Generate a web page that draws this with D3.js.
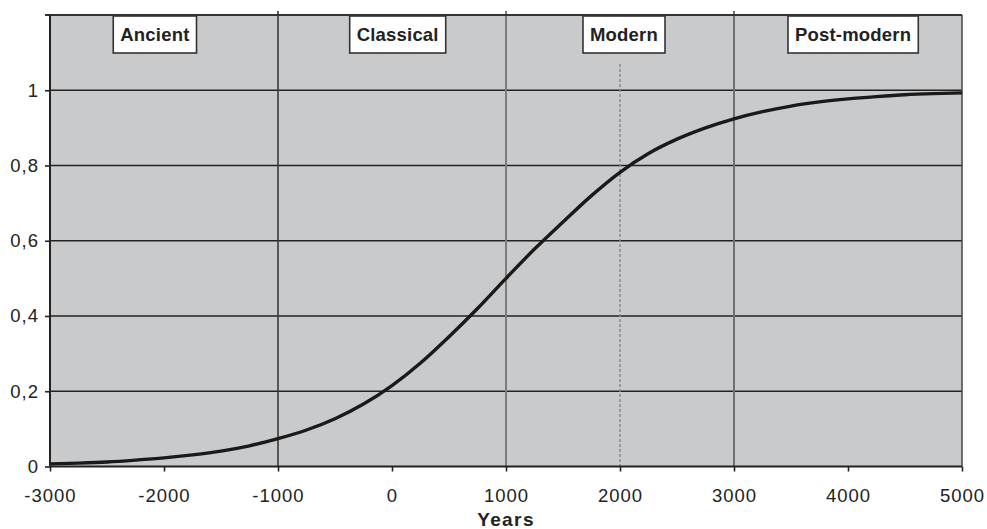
<!DOCTYPE html>
<html>
<head>
<meta charset="utf-8">
<script src="https://cdn.jsdelivr.net/npm/d3@7"></script>
<style>
  html, body { margin: 0; padding: 0; background: #fff; }
  svg { display: block; }
  text { font-family: "Liberation Sans", Arial, Helvetica, sans-serif; }
</style>
</head>
<body>
<svg id="chart" width="987" height="529"></svg>
<script>
// ---- data ----
const years = [-3000,-2750,-2500,-2250,-2000,-1750,-1500,-1250,-1000,-750,-500,-250,0,250,500,750,1000,
               1250,1500,1750,2000,2250,2500,2750,3000,3250,3500,3750,4000,4250,4500,4750,5000];
const values = [0.007,0.009,0.012,0.017,0.023,0.031,0.041,0.055,0.074,0.097,0.127,0.166,0.215,0.275,0.345,0.42,0.50,
                0.578,0.65,0.72,0.782,0.832,0.87,0.90,0.924,0.943,0.958,0.969,0.977,0.983,0.988,0.991,0.993];
const xTicks = [-3000,-2000,-1000,0,1000,2000,3000,4000,5000];
const yTicks = [0,0.2,0.4,0.6,0.8,1];
const eraNames = ["Ancient","Classical","Modern","Post-modern"];
const eraLabelYears = [-2080, 50, 2035, 4045];
const eraBoundaries = [-1000, 1000, 3000];
const presentYear = 2000;
const xTitle = "Years";

(function () {
// ---- layout ----
const svg = d3.select("#chart");
const pL = 50, pR = 962, pT = 15, pB = 466.5;
const x = d3.scaleLinear().domain([-3000, 5000]).range([pL, pR]);
const y = d3.scaleLinear().domain([0, 1.2]).range([pB, pT]);
const fmt = d => d3.format(".1~f")(d).replace(".", ",");

// plot background
svg.append("rect").attr("x", pL).attr("y", pT)
  .attr("width", pR - pL).attr("height", pB - pT)
  .attr("fill", "#c9cacc");

// horizontal gridlines
svg.append("g").selectAll("line").data(yTicks.filter(d => d > 0)).join("line")
  .attr("x1", pL).attr("x2", pR)
  .attr("y1", d => y(d)).attr("y2", d => y(d))
  .attr("stroke", "#222").attr("stroke-width", 1.6);

// era boundaries
const bColors = ["#3a3a3a", "#7d7d7d", "#707070"];
svg.append("g").selectAll("line").data(eraBoundaries).join("line")
  .attr("x1", d => x(d)).attr("x2", d => x(d))
  .attr("y1", pT - 4).attr("y2", pB)
  .attr("stroke", (d, i) => bColors[i]).attr("stroke-width", (d, i) => i === 0 ? 1.6 : 2);

// present dashed line
svg.append("line")
  .attr("x1", x(presentYear)).attr("x2", x(presentYear))
  .attr("y1", y(1.07)).attr("y2", pB)
  .attr("stroke", "#888").attr("stroke-width", 1.4)
  .attr("stroke-dasharray", "3,2");

// right border
svg.append("line").attr("x1", pR).attr("x2", pR).attr("y1", pT).attr("y2", pB)
  .attr("stroke", "#444").attr("stroke-width", 1.5);
// top border
svg.append("line").attr("x1", pL - 5).attr("x2", pR).attr("y1", pT).attr("y2", pT)
  .attr("stroke", "#333").attr("stroke-width", 1.8);

// curve
const pts = years.map((yr, i) => [yr, values[i]]);
svg.append("path").datum(pts)
  .attr("fill", "none").attr("stroke", "#1a1a1a").attr("stroke-width", 3.4)
  .attr("d", d3.line().x(d => x(d[0])).y(d => y(d[1])).curve(d3.curveMonotoneX));

// axes
const xAxis = svg.append("g").attr("transform", `translate(0,${pB})`)
  .call(d3.axisBottom(x).tickValues(xTicks).tickSize(5).tickPadding(17).tickFormat(d => d));
const yAxis = svg.append("g").attr("transform", `translate(${pL},0)`)
  .call(d3.axisLeft(y).tickValues(yTicks).tickSize(5).tickPadding(6).tickFormat(fmt));
[xAxis, yAxis].forEach(g => {
  g.select(".domain").attr("stroke", "#222").attr("stroke-width", 2);
  g.selectAll(".tick line").attr("stroke", "#222").attr("stroke-width", 1.6);
  g.selectAll(".tick text").attr("fill", "#222").attr("font-size", 18.5)
    .attr("letter-spacing", "1px")
    .attr("font-family", "'Liberation Sans', Arial, sans-serif");
});
xAxis.select(".domain").attr("d", `M${pL},0H${pR}`);
yAxis.select(".domain").attr("d", `M0,${pB}V${pT}`);

// x title
svg.append("text").attr("x", x(1000)).attr("y", 526)
  .attr("text-anchor", "middle").attr("font-size", 19).attr("font-weight", "bold")
  .attr("letter-spacing", "1.4px").attr("fill", "#222").text(xTitle);

// era labels
const lg = svg.append("g").selectAll("g").data(eraNames).join("g");
lg.each(function(name, i) {
  const g = d3.select(this);
  const cx = x(eraLabelYears[i]);
  const t = g.append("text").attr("x", cx).attr("y", 41)
    .attr("text-anchor", "middle").attr("font-size", 18.5).attr("font-weight", "bold")
    .attr("letter-spacing", "0.2px").attr("fill", "#222").text(name);
  const bb = t.node().getBBox();
  g.insert("rect", "text")
    .attr("x", cx - bb.width / 2 - 7).attr("y", 16)
    .attr("width", bb.width + 14).attr("height", 37)
    .attr("fill", "#fff").attr("stroke", "#333").attr("stroke-width", 1.6);
});
})();
</script>
</body>
</html>
